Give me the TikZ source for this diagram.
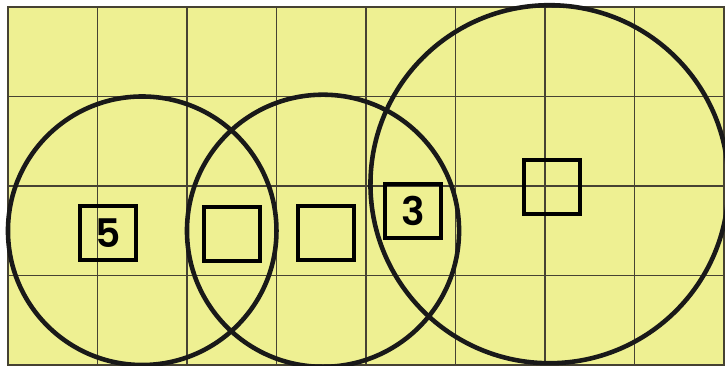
\documentclass[tikz,border=0pt]{standalone}
\usepackage{fontspec}
\newfontfamily\digitfont{Poppins SemiBold}
\usepackage{tikz}
\definecolor{paper}{RGB}{238,240,146}
\definecolor{gridgray}{RGB}{70,66,50}
\tikzset{
  cell/.style={draw=black, line width=1.3pt, minimum width=0.63cm, minimum height=0.6cm, inner sep=0pt,
    font=\digitfont\fontsize{12.5}{12.5}\selectfont},
  ring/.style={draw=black!90, line width=1.45pt}
}
\begin{document}
\begin{tikzpicture}
\useasboundingbox (-0.089,-0.011) rectangle (8.011,4.078);
\fill[paper] (0,0) rectangle (8.1,4);
\draw[gridgray, line width=0.5pt, step=1] (0,0) grid (8.5,4);
\draw[gridgray, line width=0.6pt] (8.5,0) -- (0,0) -- (0,4) -- (8.5,4);
% circles
\draw[ring] (1.5,1.5) circle (1.5);
\draw[ring] (3.52,1.5) circle (1.52);
\draw[ring] (6.05,2.02) circle (2);
% boxes
\node[cell] (five) at (1.117,1.475) {5};
\node[cell] (boxa) at (2.503,1.464) {};
\node[cell] (boxb) at (3.553,1.475) {};
\node[cell] (three) at (4.525,1.721) {3};
\node[cell] (boxc) at (6.078,1.989) {};
\end{tikzpicture}
\end{document}
